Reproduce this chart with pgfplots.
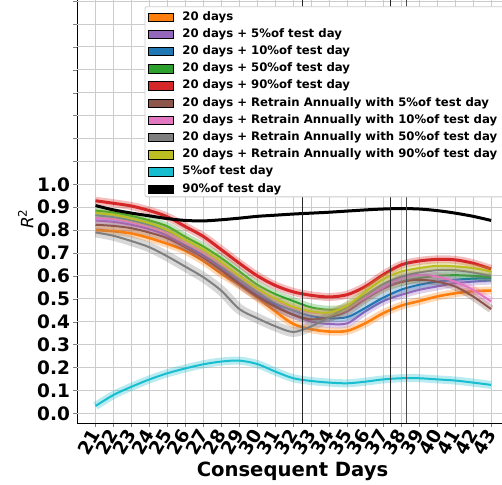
\documentclass[border=0pt]{standalone}
\usepackage{fontspec}
\setmainfont{DejaVu Sans}
\usepackage{pgfplots}
\pgfplotsset{compat=1.18}
\usepackage{pgfplotstable}

\definecolor{cOrange}{HTML}{FF7F0E}
\definecolor{cPurple}{HTML}{9467BD}
\definecolor{cBlue}{HTML}{1F77B4}
\definecolor{cGreen}{HTML}{2CA02C}
\definecolor{cRed}{HTML}{D62728}
\definecolor{cBrown}{HTML}{8C564B}
\definecolor{cPink}{HTML}{E377C2}
\definecolor{cGray}{HTML}{7F7F7F}
\definecolor{cOlive}{HTML}{BCBD22}
\definecolor{cCyan}{HTML}{17BECF}

% mean R^2 per day, one column per setup
\pgfplotstableread{
x  orange purple blue  green red   brown pink  gray  olive cyan  black
21 0.800  0.842  0.865 0.885 0.928 0.823 0.852 0.790 0.874 0.032 0.907
22 0.795  0.836  0.856 0.877 0.917 0.818 0.848 0.775 0.867 0.080 0.888
23 0.785  0.823  0.842 0.862 0.905 0.808 0.833 0.752 0.850 0.116 0.874
24 0.765  0.804  0.821 0.842 0.885 0.789 0.813 0.725 0.830 0.148 0.862
25 0.740  0.775  0.794 0.816 0.858 0.765 0.787 0.685 0.800 0.175 0.850
26 0.710  0.730  0.738 0.770 0.815 0.725 0.743 0.640 0.757 0.196 0.842
27 0.665  0.690  0.695 0.728 0.772 0.680 0.700 0.594 0.715 0.214 0.840
28 0.610  0.635  0.640 0.677 0.714 0.625 0.650 0.535 0.660 0.226 0.845
29 0.560  0.575  0.585 0.619 0.655 0.565 0.595 0.455 0.600 0.230 0.852
30 0.505  0.520  0.530 0.561 0.600 0.510 0.540 0.415 0.545 0.215 0.860
31 0.445  0.470  0.480 0.520 0.558 0.465 0.495 0.380 0.500 0.182 0.865
32 0.390  0.430  0.450 0.490 0.530 0.430 0.460 0.355 0.465 0.153 0.870
33 0.367  0.400  0.425 0.462 0.515 0.410 0.440 0.380 0.445 0.141 0.874
34 0.357  0.390  0.415 0.452 0.508 0.420 0.440 0.420 0.440 0.134 0.878
35 0.360  0.393  0.420 0.460 0.518 0.445 0.460 0.465 0.470 0.131 0.883
36 0.393  0.445  0.460 0.500 0.553 0.500 0.505 0.515 0.530 0.138 0.888
37 0.437  0.490  0.505 0.545 0.605 0.545 0.550 0.565 0.585 0.148 0.892
38 0.470  0.517  0.540 0.575 0.648 0.573 0.590 0.597 0.619 0.153 0.894
39 0.490  0.539  0.561 0.590 0.665 0.583 0.605 0.615 0.634 0.153 0.892
40 0.510  0.554  0.575 0.600 0.672 0.575 0.597 0.625 0.644 0.148 0.885
41 0.524  0.568  0.583 0.603 0.670 0.554 0.575 0.625 0.641 0.143 0.874
42 0.533  0.575  0.588 0.600 0.655 0.510 0.539 0.615 0.634 0.134 0.860
43 0.536  0.580  0.590 0.594 0.630 0.455 0.488 0.600 0.619 0.124 0.842
}\rtwo

\pgfplotsset{
  sdband/.style={line width=8pt, opacity=0.3, smooth, forget plot},
  avgline/.style={line width=2pt, smooth, forget plot},
  gridln/.style={gray!40, line width=0.8pt, forget plot},
}

\begin{document}
\begin{tikzpicture}
\useasboundingbox (-77pt,-60.7pt) rectangle (425pt,423.3pt);
\clip (-77pt,-60.7pt) rectangle (425pt,423.3pt);
\begin{axis}[
  at={(0pt,0pt)}, anchor=south west,
  scale only axis, width=428.5pt, height=433.7pt,
  xmin=19.97, xmax=43.8, ymin=-0.0437, ymax=1.85,
  xtick={21,...,43},
  ytick={0,0.1,0.2,0.3,0.4,0.5,0.6,0.7,0.8,0.9,1.0,1.1,1.2,1.3,1.4,1.5,1.6,1.7,1.8},
  yticklabels={0.0,0.1,0.2,0.3,0.4,0.5,0.6,0.7,0.8,0.9,1.0,{},{},{},{},{},{},{},{}},
  axis line style={line width=0.8pt},
  tick align=outside, tick pos=left,
  major tick length=3.5pt,
  /pgf/number format/assume math mode=true,
  tick label style={font=\bfseries\fontsize{18.5}{18.5}\selectfont},
  xticklabel style={rotate=60, anchor=east, yshift=-1.5pt},
  xlabel={Consequent Days},
  xlabel style={at={(axis description cs:0.503,-0.1231)}, anchor=base,
    font=\bfseries\fontsize{19.6}{20}\selectfont},
  ylabel={\textit{R}\textsuperscript{2}},
  ylabel style={at={(axis description cs:-0.1197,0.471)}, anchor=center,
    font=\fontsize{17}{17}\selectfont},
  legend image code/.code={\fill[#1] (0pt,-4.2pt) rectangle (24.5pt,4.2pt);},
  legend cell align=left,
  legend style={at={(axis description cs:0.157,0.9614)}, anchor=north west,
    draw=none, fill=none,
    font=\bfseries\fontsize{11.7}{13}\selectfont,
    inner xsep=4pt, inner ysep=5pt, row sep=6.1pt, column sep=9pt,
    nodes={inner sep=0pt, text height=8.6pt, text depth=2.5pt}},
]
% grid, one line per tick
\pgfplotsinvokeforeach{21,...,43}{
  \addplot[gridln] coordinates {(#1,-0.0437) (#1,1.85)};
}
\pgfplotsinvokeforeach{0,0.1,0.2,0.3,0.4,0.5,0.6,0.7,0.8,0.9,1.0,1.1,1.2,1.3,1.4,1.5,1.6,1.7,1.8}{
  \addplot[gridln] coordinates {(19.97,#1) (43.8,#1)};
}

\addplot[sdband, cOrange] table[x=x, y=orange] {\rtwo};
\addplot[avgline, cOrange, line width=2.6pt] table[x=x, y=orange] {\rtwo};
\addplot[sdband, cPurple] table[x=x, y=purple] {\rtwo};
\addplot[avgline, cPurple] table[x=x, y=purple] {\rtwo};
\addplot[sdband, cBlue] table[x=x, y=blue] {\rtwo};
\addplot[avgline, cBlue] table[x=x, y=blue] {\rtwo};
\addplot[sdband, cGreen] table[x=x, y=green] {\rtwo};
\addplot[avgline, cGreen] table[x=x, y=green] {\rtwo};
\addplot[sdband, cRed] table[x=x, y=red] {\rtwo};
\addplot[avgline, cRed, line width=3pt] table[x=x, y=red] {\rtwo};
\addplot[sdband, cBrown] table[x=x, y=brown] {\rtwo};
\addplot[avgline, cBrown] table[x=x, y=brown] {\rtwo};
\addplot[sdband, cPink] table[x=x, y=pink] {\rtwo};
\addplot[avgline, cPink] table[x=x, y=pink] {\rtwo};
\addplot[sdband, cGray, line width=10pt] table[x=x, y=gray] {\rtwo};
\addplot[avgline, cGray] table[x=x, y=gray] {\rtwo};
\addplot[sdband, cOlive] table[x=x, y=olive] {\rtwo};
\addplot[avgline, cOlive] table[x=x, y=olive] {\rtwo};
\addplot[sdband, cCyan] table[x=x, y=cyan] {\rtwo};
\addplot[avgline, cCyan] table[x=x, y=cyan] {\rtwo};
\addplot[avgline, black, line width=3pt] table[x=x, y=black] {\rtwo};

% marker lines
\addplot[black!85, line width=0.9pt, forget plot] coordinates {(32.5,-0.0437) (32.5,1.85)};
\addplot[black!85, line width=0.9pt, forget plot] coordinates {(37.4,-0.0437) (37.4,1.85)};
\addplot[black!70, line width=0.9pt, forget plot] coordinates {(38.3,-0.0437) (38.3,1.85)};

% legend frame
\addplot[fill=white, draw=gray!40, line width=0.8pt, rounded corners=2pt, forget plot]
  coordinates {(23.75,0.945) (44.5,0.945) (44.5,1.7755) (23.75,1.7755)} -- cycle;

\addlegendimage{fill=cOrange} \addlegendentry{20 days}
\addlegendimage{fill=cPurple} \addlegendentry{20 days + 5\%of test day}
\addlegendimage{fill=cBlue} \addlegendentry{20 days + 10\%of test day}
\addlegendimage{fill=cGreen} \addlegendentry{20 days + 50\%of test day}
\addlegendimage{fill=cRed} \addlegendentry{20 days + 90\%of test day}
\addlegendimage{fill=cBrown} \addlegendentry{20 days + Retrain Annually with 5\%of test day}
\addlegendimage{fill=cPink} \addlegendentry{20 days + Retrain Annually with 10\%of test day}
\addlegendimage{fill=cGray} \addlegendentry{20 days + Retrain Annually with 50\%of test day}
\addlegendimage{fill=cOlive} \addlegendentry{20 days + Retrain Annually with 90\%of test day}
\addlegendimage{fill=cCyan} \addlegendentry{5\%of test day}
\addlegendimage{fill=black} \addlegendentry{90\%of test day}
\end{axis}
\end{tikzpicture}
\end{document}
